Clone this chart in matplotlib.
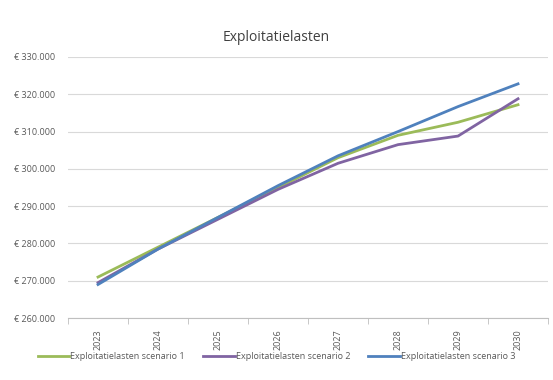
import matplotlib
matplotlib.use("Agg")
from matplotlib import pyplot as plt
from matplotlib.ticker import FuncFormatter

jaren = ["2023", "2024", "2025", "2026", "2027", "2028", "2029", "2030"]
scenario_1 = [271000, 279000, 287000, 295000, 303000, 309000, 312500, 317200]
scenario_2 = [269500, 278500, 286500, 294500, 301500, 306500, 308800, 318800]
scenario_3 = [269000, 278500, 287000, 295500, 303500, 310000, 316700, 322800]
namen = ["Exploitatielasten scenario 1", "Exploitatielasten scenario 2", "Exploitatielasten scenario 3"]
kleuren = ["#9BBB59", "#8064A2", "#4F81BD"]

plt.rcParams['font.family'] = ['Open Sans', 'DejaVu Sans']

fig = plt.figure(figsize=(5.53, 3.80), dpi=100)
ax = fig.add_axes([0.123, 0.163, 0.868, 0.687])

x = range(len(jaren))
for data, naam, kleur in zip([scenario_1, scenario_2, scenario_3], namen, kleuren):
    ax.plot(x, data, color=kleur, linewidth=2, label=naam)

ax.set_ylim(260000, 330000)
ax.set_yticks(range(260000, 330001, 10000))
ax.yaxis.set_major_formatter(FuncFormatter(lambda v, p: "€ " + f"{int(v):,}".replace(",", ".")))
ax.set_xlim(-0.5, len(jaren) - 0.5)
ax.set_xticks(list(x))
ax.set_xticklabels(jaren, rotation=90)

ax.grid(axis='y', color='#d9d9d9', linewidth=0.8)
ax.set_axisbelow(True)
for s in ['top', 'right', 'left']:
    ax.spines[s].set_visible(False)
ax.spines['bottom'].set_color('#bfbfbf')
ax.tick_params(axis='y', length=0, labelsize=6.5, labelcolor='#595959', pad=9)
ax.tick_params(axis='x', labelsize=6.5, labelcolor='#595959', color='#bfbfbf', length=0, pad=8)
# kleine streepjes tussen de categorieen, zoals in Excel
ax.set_xticks([i - 0.5 for i in range(len(jaren) + 1)], minor=True)
ax.tick_params(axis='x', which='minor', length=4, color='#bfbfbf', direction='out')

fig.text(0.5, 0.902, "Exploitatielasten", ha='center', va='center', fontsize=10, color='#404040')

fig.legend(loc='center', bbox_to_anchor=(0.5, 0.062), ncol=3, frameon=False, fontsize=6.5,
           handlelength=3.5, handletextpad=0.1, columnspacing=2.0, labelcolor='#595959')

fig.savefig("out.png", dpi=100)
